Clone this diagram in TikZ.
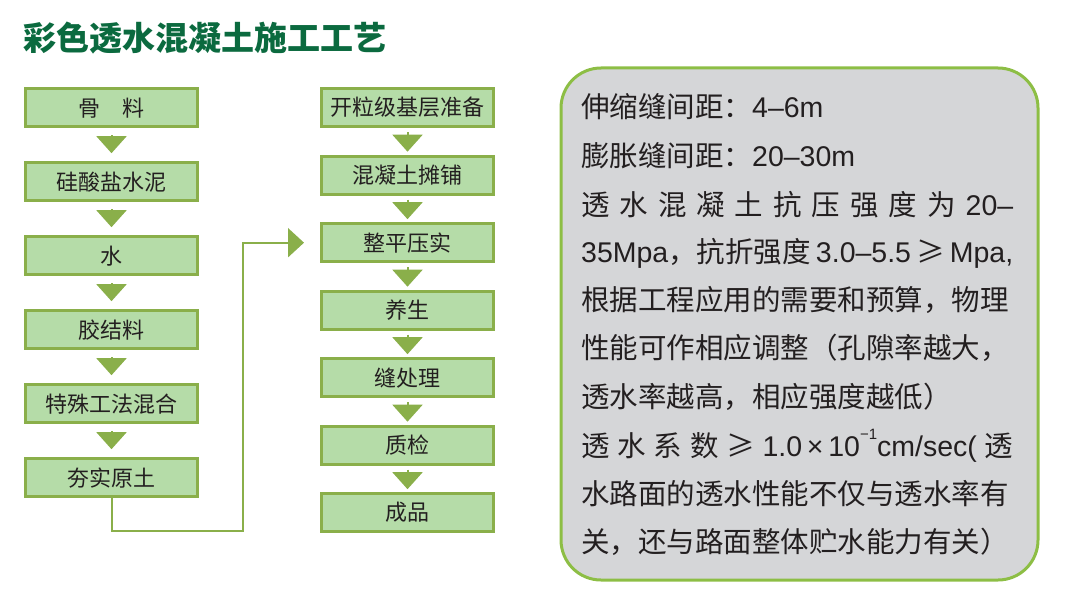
\documentclass[tikz,border=0pt]{standalone}
\usepackage{fontspec}
\setmainfont{Noto Sans CJK SC}
\newfontfamily\lat{Liberation Sans}
\usetikzlibrary{matrix,arrows.meta}

\definecolor{leaf}{HTML}{8AAF4A}
\definecolor{mint}{HTML}{B5DCA8}
\definecolor{pine}{HTML}{0B6A3F}
\definecolor{slate}{HTML}{D5D6D8}
\definecolor{lime}{HTML}{8DBE45}
\definecolor{ink}{HTML}{231F20}

\tikzset{
  stepbox/.style={draw=leaf, fill=mint, line width=3pt, minimum width=172pt,
    minimum height=38pt, inner sep=0pt, font=\fontsize{22}{24}\selectfont, text=ink},
  down/.style={draw=leaf, line width=2pt, -{Triangle[width=30pt,length=17pt]}, leaf},
  flow/.style={draw=leaf, line width=2pt, -{Triangle[width=29pt,length=16pt]}, leaf}
}

\begin{document}
\begin{tikzpicture}[x=1pt,y=-1pt]
    \useasboundingbox (0,0) rectangle (1070,607);
    \node[anchor=west, text=pine, font=\fontsize{33}{35}\selectfont\bfseries] (title) at (20,38) {彩色透水混凝土施工工艺};

    \matrix(mix)[matrix of nodes, ampersand replacement=\&, anchor=north, inner sep=0pt,
      row sep=33pt, nodes={stepbox}] at (111.5,87) {
      骨\hspace{1em}料 \\
      硅酸盐水泥 \\
      水 \\
      胶结料 \\
      特殊工法混合 \\
      夯实原土 \\ };
    \matrix(work)[matrix of nodes, ampersand replacement=\&, anchor=north, inner sep=0pt,
      row sep=26.5pt, nodes={stepbox}] at (407.5,87) {
      开粒级基层准备 \\
      混凝土摊铺 \\
      整平压实 \\
      养生 \\
      缝处理 \\
      质检 \\
      成品 \\ };

    \foreach \i [count=\j from 2] in {1,...,5}
      \path[down, shorten <=7pt, shorten >=8pt] (mix-\i-1.south) -- (mix-\j-1.north);
    \foreach \i [count=\j from 2] in {1,...,6}
      \path[down, shorten <=4pt, shorten >=3pt] (work-\i-1.south) -- (work-\j-1.north);

    \coordinate (turn) at (243,531);
    \path[flow, shorten >=16pt] (mix-6-1.south) |- (turn) |- (work-3-1.west);

    % notes on the right
    \node[draw=lime, fill=slate, line width=3pt, rounded corners=40pt,
      minimum width=477pt, minimum height=512pt, anchor=north west] (notes) at (559.5,66.5) {};
    \begin{scope}[every node/.style={anchor=west, text=ink, inner sep=0pt,
        font=\fontsize{28.5}{30}\selectfont}]
      \node (l1) at (581,107) {伸缩缝间距：{\lat 4–6m}};
      \node (l2) at (581,156) {膨胀缝间距：{\lat 20–30m}};
      \node (l3) at (581,205) {\makebox[432pt][s]{透\hfill 水\hfill 混\hfill 凝\hfill 土\hfill 抗\hfill 压\hfill 强\hfill 度\hfill 为\hfill {\lat 20–}}};
      \node (l4) at (581,253) {\makebox[432pt][s]{{\lat 35Mpa}，抗折强度\hfill{\lat 3.0–5.5}\hfill ≥\hfill{\lat Mpa,}}};
      \node (l5) at (581,300) {根据工程应用的需要和预算，物理};
      \node (l6) at (581,348) {性能可作相应调整（孔隙率越大，};
      \node (l7) at (581,397) {透水率越高，相应强度越低）};
      \node (l8) at (581,446) {\makebox[432pt][s]{透\hfill 水\hfill 系\hfill 数\hfill ≥\hfill {\lat 1.0\,×\,10\raisebox{1.1ex}{\fontsize{15}{15}\selectfont −1}cm/sec(}\hfill 透}};
      \node (l9) at (581,494) {水路面的透水性能不仅与透水率有};
      \node (l10) at (581,542) {关，还与路面整体贮水能力有关）};
    \end{scope}
\end{tikzpicture}
\end{document}
